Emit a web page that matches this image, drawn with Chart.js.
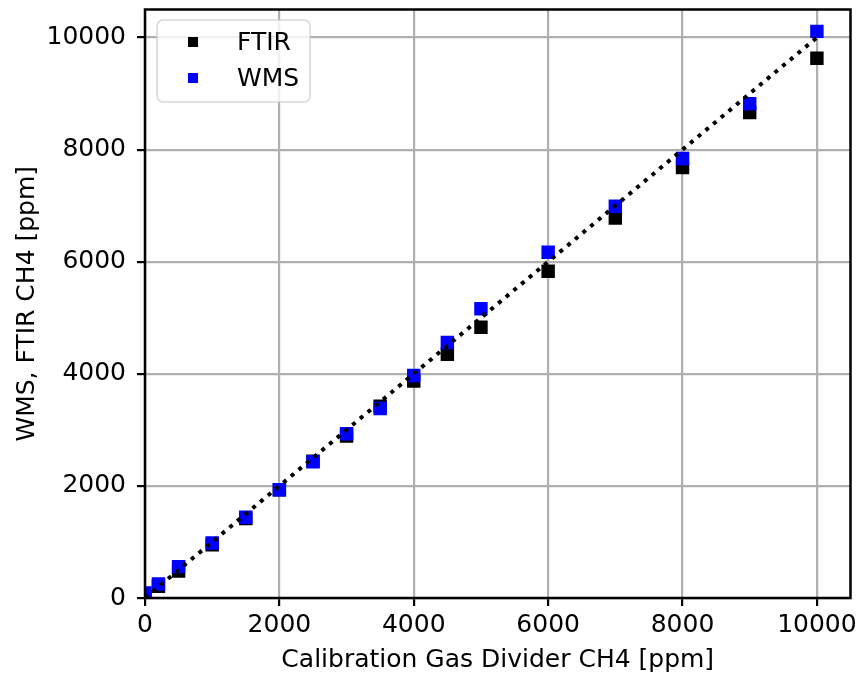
<!DOCTYPE html>
<html>
<head>
<meta charset="utf-8">
<script src="https://cdn.jsdelivr.net/npm/chart.js@4.4.1/dist/chart.umd.min.js"></script>
<style>
  body { margin: 0; background: #fff; }
  canvas { display: block; }
</style>
</head>
<body>
<canvas id="calChart" width="860" height="675"></canvas>
<script>
// calibration gas divider setpoints (x) and the two measured series
var divider = [0, 200, 500, 1000, 1500, 2000, 2500, 3000, 3500, 4000, 4500, 5000, 6000, 7000, 8000, 9000, 10000];
var ftir = [20, 210, 480, 950, 1420, 1930, 2440, 2890, 3420, 3870, 4350, 4830, 5830, 6780, 7680, 8660, 9630];
var wms = [90, 250, 560, 980, 1440, 1930, 2430, 2930, 3380, 3970, 4560, 5160, 6170, 6990, 7840, 8820, 10110];
// 1:1 reference line
var refLine = [0, 10000];
var tickValues = [0, 2000, 4000, 6000, 8000, 10000];

var font = "'DejaVu Sans', sans-serif";

function pts(xs, ys) {
  return xs.map(function (x, i) { return {x: x, y: ys[i]}; });
}

// matplotlib-like frame and in-axes legend
var framePlugin = {
  id: 'frame',
  afterDatasetsDraw: function (chart) {
    var ctx = chart.ctx, a = chart.chartArea;
    ctx.save();
    ctx.strokeStyle = '#000';
    ctx.lineWidth = 2.5;
    ctx.strokeRect(a.left, a.top, a.right - a.left, a.bottom - a.top);

    // legend box
    var x0 = 157, y0 = 20, w = 153, h = 82, r = 6;
    ctx.beginPath();
    ctx.moveTo(x0 + r, y0);
    ctx.arcTo(x0 + w, y0, x0 + w, y0 + h, r);
    ctx.arcTo(x0 + w, y0 + h, x0, y0 + h, r);
    ctx.arcTo(x0, y0 + h, x0, y0, r);
    ctx.arcTo(x0, y0, x0 + w, y0, r);
    ctx.closePath();
    ctx.fillStyle = 'rgba(255,255,255,0.8)';
    ctx.fill();
    ctx.strokeStyle = 'rgba(204,204,204,0.8)';
    ctx.lineWidth = 1.5;
    ctx.stroke();

    var items = [['FTIR', '#000000', 42], ['WMS', '#0000ff', 78]];
    ctx.font = '25px ' + font;
    ctx.textBaseline = 'middle';
    ctx.textAlign = 'left';
    items.forEach(function (it) {
      ctx.fillStyle = it[1];
      ctx.fillRect(188, it[2] - 5, 10, 10);
      ctx.fillStyle = '#000';
      ctx.fillText(it[0], 237, it[2] + 1);
    });
    ctx.restore();
  }
};

var axisCommon = {
  type: 'linear',
  min: 0,
  max: 10500,
  afterBuildTicks: function (scale) {
    scale.ticks = tickValues.map(function (v) { return {value: v}; });
  },
  grid: {
    color: '#b0b0b0',
    lineWidth: 2.2,
    tickColor: '#000',
    tickLength: 8,
    tickWidth: 2.2
  },
  border: { display: false },
  ticks: {
    color: '#000',
    font: { family: font, size: 25 },
    maxRotation: 0,
    autoSkip: false,
    callback: function (v) { return String(v); }
  }
};

var ctx = document.getElementById('calChart');
var myChart = new Chart(ctx, {
  type: 'scatter',
  data: {
    datasets: [
      {
        label: 'FTIR',
        data: pts(divider, ftir),
        pointStyle: 'rect',
        pointRadius: 9.5,
        pointBorderWidth: 0,
        backgroundColor: '#000000',
        borderColor: '#000000',
        order: 3
      },
      {
        label: 'WMS',
        data: pts(divider, wms),
        pointStyle: 'rect',
        pointRadius: 9.5,
        pointBorderWidth: 0,
        backgroundColor: '#0000ff',
        borderColor: '#0000ff',
        order: 2
      },
      {
        type: 'line',
        label: '1:1',
        data: pts(refLine, refLine),
        borderColor: '#000',
        borderWidth: 4,
        borderDash: [4, 6],
        pointRadius: 0,
        fill: false,
        order: 1
      }
    ]
  },
  options: {
    responsive: false,
    animation: false,
    devicePixelRatio: 1,
    layout: { padding: { left: 0, top: 8, right: 5, bottom: 0 } },
    plugins: {
      legend: { display: false },
      tooltip: { enabled: false }
    },
    scales: {
      x: Object.assign({}, axisCommon, {
        position: 'bottom',
        afterFit: function (s) { s.height = 77; s.paddingLeft = 0; s.paddingRight = 0; },
        ticks: Object.assign({}, axisCommon.ticks, { padding: 4 }),
        title: {
          display: true,
          text: 'Calibration Gas Divider CH4 [ppm]',
          color: '#000',
          font: { family: font, size: 25 },
          padding: { top: 0, bottom: 0 }
        }
      }),
      y: Object.assign({}, axisCommon, {
        position: 'left',
        afterFit: function (s) { s.width = 145; s.paddingTop = 0; s.paddingBottom = 0; },
        ticks: Object.assign({}, axisCommon.ticks, { padding: 11 }),
        title: {
          display: true,
          text: 'WMS, FTIR CH4 [ppm]',
          color: '#000',
          font: { family: font, size: 25 },
          padding: { top: 12, bottom: 0 }
        }
      })
    }
  },
  plugins: [framePlugin]
});
</script>
</body>
</html>
